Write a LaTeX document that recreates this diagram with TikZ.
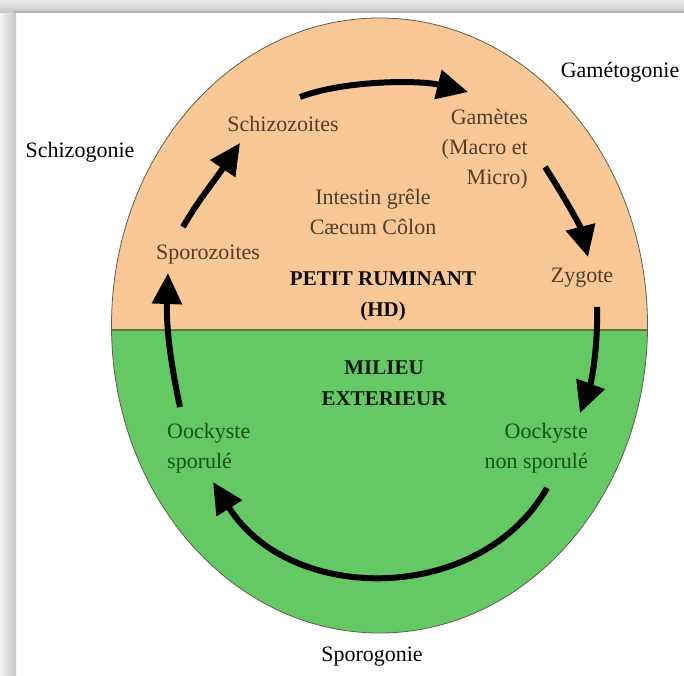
\documentclass[tikz,border=0pt]{standalone}
\usepackage{fontspec}
\setmainfont{Liberation Serif}
\usetikzlibrary{arrows.meta}
\definecolor{peach}{RGB}{250,200,150}
\definecolor{leaf}{RGB}{100,200,100}
\definecolor{brn}{RGB}{80,62,42}
\definecolor{dgreen}{RGB}{25,80,25}
\definecolor{rimcol}{RGB}{95,95,75}
\definecolor{divcol}{RGB}{105,110,70}
\begin{document}
\begin{tikzpicture}[x=1pt,y=-1pt,
  txt/.style={font=\fontsize{22}{30}\selectfont, inner sep=0pt},
  intxt/.style={txt, text=brn},
  gtxt/.style={txt, text=dgreen},
  outtxt/.style={txt, text=black},
  bigtxt/.style={font=\fontsize{21}{31}\selectfont\bfseries, inner sep=0pt, align=center},
  cyc/.style={line width=6pt, -{Triangle[length=31pt,width=29pt]}},
]
\useasboundingbox (0,0) rectangle (684,675);
\fill[white] (0,0) rectangle (684,675);
% frame
\shade[left color=gray!8, right color=gray!45] (0,0) rectangle (16,675);
\shade[top color=gray!15, bottom color=gray!45] (0,0) rectangle (684,12);
\fill[gray!60] (14,11) rectangle (684,12.5);

% disc
\begin{scope}
  \clip (379.5,325.5) ellipse [x radius=268, y radius=307.5];
  \fill[peach] (100,0) rectangle (660,330);
  \fill[leaf] (100,330) rectangle (660,650);
  \draw[divcol, line width=1.3pt] (100,330) -- (660,330);
\end{scope}
\draw[rimcol, line width=0.8pt] (379.5,325.5) ellipse [x radius=268, y radius=307.5];

% outside labels
\node[outtxt] (gameto) at (620,72) {Gamétogonie};
\node[outtxt] (schizo) at (80,152) {Schizogonie};
\node[outtxt] (sporo) at (372,657) {Sporogonie};

% inside labels
\node[intxt] (schz) at (283,124) {Schizozoites};
\node[intxt, align=right, anchor=east] (gam) at (528,149) {Gamètes\\(Macro et\\Micro)};
\node[intxt, align=center] (intes) at (373,212) {Intestin grêle\\Cæcum Côlon};
\node[intxt] (spz) at (208,255) {Sporozoites};
\node[intxt] (zyg) at (582,278) {Zygote};
\node[bigtxt, text=black!85!brn] (pr) at (383,296) {PETIT RUMINANT\\(HD)};
\node[bigtxt, text=black!70!dgreen] (me) at (384,383) {MILIEU\\EXTERIEUR};
\node[gtxt, align=left, anchor=west] (oos) at (167,448) {Oockyste\\sporulé};
\node[gtxt, align=right, anchor=east] (oons) at (588,448) {Oockyste\\non sporulé};

% arrow ends
\coordinate (a1s) at (300,97);   \coordinate (a1e) at (468,92);
\coordinate (a2s) at (545,167);  \coordinate (a2e) at (588,257);
\coordinate (a3s) at (597,307);  \coordinate (a3e) at (580,413);
\coordinate (a4s) at (547,488);  \coordinate (a4e) at (213,482);
\coordinate (a5s) at (180,407);  \coordinate (a5e) at (168,273);
\coordinate (a6s) at (183,227);  \coordinate (a6e) at (240,143);

\draw[cyc] (a1s) .. controls (345,80) and (420,80) .. (a1e);
\draw[cyc] (a2s) .. controls (560,190) and (580,225) .. (a2e);
\draw[cyc] (a3s) .. controls (598,345) and (592,380) .. (a3e);
\draw[cyc] (a4s) .. controls (480,605) and (290,605) .. (a4e);
\draw[cyc] (a5s) .. controls (172,370) and (166,330) .. (a5e);
\draw[cyc] (a6s) .. controls (195,205) and (215,180) .. (a6e);
\end{tikzpicture}
\end{document}
